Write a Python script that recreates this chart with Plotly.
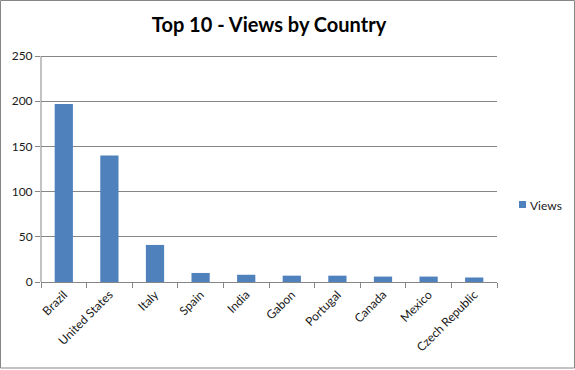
import plotly.graph_objects as go

countries = ["Brazil", "United States", "Italy", "Spain", "India", "Gabon",
             "Portugal", "Canada", "Mexico", "Czech Republic"]
views = [197, 140, 41, 10, 8, 7, 7, 6, 6, 5]
y_ticks = [0, 50, 100, 150, 200, 250]
series_name = "Views"

W, H = 575, 370
L, R, T, B = 41, 78, 53, 88
pw, ph = W - L - R, H - T - B
k = (282 - 56) / 250.0          # px per unit
y_top = ph / k                   # range top so that 250 sits at y=56

fig = go.Figure()
fig.add_trace(go.Bar(x=countries, y=views, name=series_name,
                     marker=dict(color="#4F81BD", line=dict(width=0)),
                     width=0.4, showlegend=False))

grid = "#868686"
txt = "#1a1a1a"
fig.update_layout(
    width=W, height=H,
    margin=dict(l=L, r=R, t=T, b=B, autoexpand=False),
    paper_bgcolor="white", plot_bgcolor="white",
    font=dict(family="Lato, Liberation Sans, sans-serif", size=12, color=txt),
    title=dict(text="<b>Top 10 - Views by Country</b>", x=0.5, xref="paper",
               xanchor="center", y=1 - 25 / H, yanchor="middle",
               font=dict(size=20, color="black", family="Lato, sans-serif")),
    showlegend=False,
    xaxis=dict(type="category", tickson="boundaries", ticks="outside", ticklen=5,
               tickcolor=grid, showline=True, linecolor=grid, linewidth=1,
               showgrid=False, tickangle=-45, automargin=False,
               tickfont=dict(size=12, color=txt)),
    yaxis=dict(range=[0, y_top], tickvals=y_ticks, ticks="outside", ticklen=5,
               tickcolor=grid, showline=False,
               showgrid=True, gridcolor=grid, gridwidth=1, zeroline=False,
               automargin=False, tickfont=dict(size=12, color=txt)),
)

# y axis line from 0 to the top tick only
fig.add_shape(type="line", xref="paper", yref="y", x0=0, x1=0,
              y0=0, y1=max(y_ticks), line=dict(color=grid, width=1))

# manual legend
fig.add_shape(type="rect", xref="paper", yref="paper",
              x0=(519 - L) / pw, x1=(526 - L) / pw,
              y0=(H - B - 208) / ph, y1=(H - B - 201) / ph,
              line=dict(width=0), fillcolor="#4F81BD")
fig.add_annotation(text=series_name, xref="paper", yref="paper",
                   x=(528 - L) / pw, y=(H - B - 205) / ph, xanchor="left",
                   yanchor="middle", showarrow=False,
                   font=dict(size=12, color=txt))

# outer chart border
fig.add_shape(type="rect", xref="paper", yref="paper",
              x0=(0.5 - L) / pw, x1=(574.5 - L) / pw,
              y0=(H - B - 368) / ph, y1=(H - B - 0.5) / ph,
              line=dict(color=grid, width=1), fillcolor="rgba(0,0,0,0)", layer="below")

fig.write_html("out.html")
